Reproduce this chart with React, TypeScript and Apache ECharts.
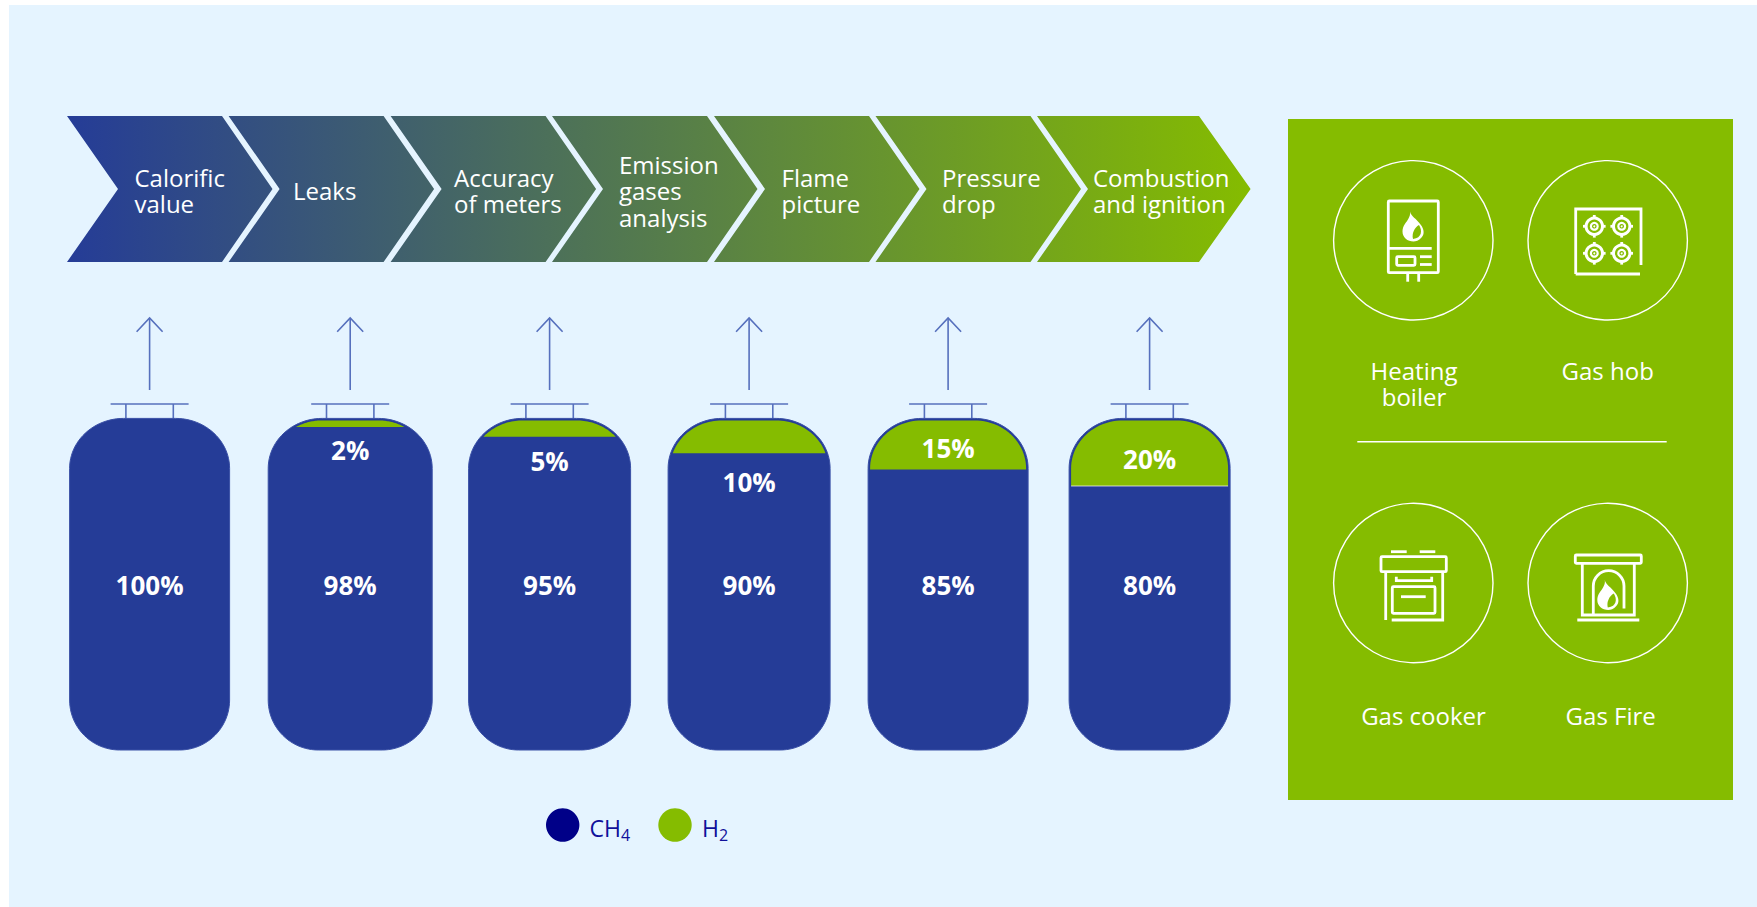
import React, { useEffect, useRef } from "react";
import * as echarts from "echarts";

// Gas blend per cylinder, in percent.
const ch4Share = [100, 98, 95, 90, 85, 80];
const h2Share = [0, 2, 5, 10, 15, 20];
const blendNames = ["Blend A", "Blend B", "Blend C", "Blend D", "Blend E", "Blend F"];

const testSteps = [
  "Calorific\nvalue",
  "Leaks",
  "Accuracy\nof meters",
  "Emission\ngases\nanalysis",
  "Flame\npicture",
  "Pressure\ndrop",
  "Combustion\nand ignition",
];

const applianceNames = ["Heating\nboiler", "Gas hob", "Gas cooker", "Gas Fire"];

const BLUE = "#253c97";
const GREEN = "#85bc00";
const LINE = "#5670bd";
const FONT = '"Open Sans", sans-serif';

// Tank outline geometry (px).
const TANK_WIDTHS = [160, 164, 162, 162, 160, 161];
const TANK_SHIFT = [0, 0.6, 0, -0.5, -1.5, 0];
const TOP_RX = 54;
const TOP_RY = 50;
const BOTTOM_R = 50;
const H2_LABEL_OFFSET = [0, 23, 24, 29, -22, -27];
const CH4_LABEL_Y = 585;

echarts.graphic.registerShape(
  "flame",
  echarts.graphic.extendPath(
    "M7.5 0C8.5 5 14 7 18 13C22 18 22 23 19 26C16.5 29 13 30 11 30C5 30 0 26 0 20C0 14 4 11 6 7C7 5 8 3 7.5 0Z",
    {}
  ) as any
);
echarts.graphic.registerShape(
  "flameLeaf",
  echarts.graphic.extendPath("M10.5 27.5C9 22 12 16 16.5 13.5C20 19 19.5 26.5 10.5 27.5Z", {}) as any
);
echarts.graphic.registerShape(
  "fireArch",
  echarts.graphic.extendPath("M1593.3 615L1593.3 586A15.3 15.3 0 0 1 1624 586L1624 608.5", {}) as any
);

// Points along one quarter of an ellipse.
function quarter(cx: number, cy: number, rx: number, ry: number, from: number, to: number) {
  const pts: number[][] = [];
  for (let k = 0; k <= 24; k++) {
    const a = from + ((to - from) * k) / 24;
    pts.push([cx + rx * Math.cos(a), cy + ry * Math.sin(a)]);
  }
  return pts;
}

function tankOutline(cx: number, w: number, top: number, bottom: number) {
  const l = cx - w / 2;
  const r = cx + w / 2;
  return [
    ...quarter(l + TOP_RX, top + TOP_RY, TOP_RX, TOP_RY, Math.PI, 1.5 * Math.PI),
    ...quarter(r - TOP_RX, top + TOP_RY, TOP_RX, TOP_RY, 1.5 * Math.PI, 2 * Math.PI),
    ...quarter(r - BOTTOM_R, bottom - BOTTOM_R, BOTTOM_R, BOTTOM_R, 0, 0.5 * Math.PI),
    ...quarter(l + BOTTOM_R, bottom - BOTTOM_R, BOTTOM_R, BOTTOM_R, 0.5 * Math.PI, Math.PI),
  ];
}

// Part of the domed tank head that lies above a given fill level.
function headAboveLevel(cx: number, w: number, top: number, level: number) {
  const rx = TOP_RX - 2;
  const ry = TOP_RY - 2;
  const t = top + 2;
  const half = w / 2 - 2;
  const cy = t + ry;
  const pts: number[][] = [];
  const leftC = cx - half + rx;
  const rightC = cx + half - rx;
  if (level >= cy) {
    pts.push([cx - half, level]);
    pts.push(...quarter(leftC, cy, rx, ry, Math.PI, 1.5 * Math.PI));
    pts.push(...quarter(rightC, cy, rx, ry, 1.5 * Math.PI, 2 * Math.PI));
    pts.push([cx + half, level]);
  } else {
    const s = Math.asin((cy - level) / ry);
    pts.push(...quarter(leftC, cy, rx, ry, Math.PI + s, 1.5 * Math.PI));
    pts.push(...quarter(rightC, cy, rx, ry, 1.5 * Math.PI, 2 * Math.PI - s));
  }
  return pts;
}

function shareText(x: number, y: number, value: number) {
  return {
    type: "text",
    style: {
      text: `${value}%`,
      x,
      y,
      fill: "#fff",
      fontFamily: FONT,
      fontWeight: 700,
      fontSize: 26,
      align: "center",
      verticalAlign: "middle",
    },
  };
}

function renderCh4(params: any, api: any) {
  const i = api.value(0);
  const [px, bottom] = api.coord([i, 0]);
  const cx = px + TANK_SHIFT[i];
  const [, full] = api.coord([i, 100]);
  const top = full - 2;
  const w = TANK_WIDTHS[i];
  const ln = { stroke: LINE, lineWidth: 1.6, fill: "none" };
  const seg = (x1: number, y1: number, x2: number, y2: number) => ({
    type: "line",
    shape: { x1, y1, x2, y2 },
    style: ln,
  });
  return {
    type: "group",
    children: [
      seg(cx, 318, cx, 390),
      { type: "polyline", shape: { points: [[cx - 13, 331.7], [cx, 318], [cx + 13, 331.7]] }, style: ln },
      seg(cx - 39, 404, cx + 39, 404),
      seg(cx - 23.7, 404, cx - 23.7, top),
      seg(cx + 23.7, 404, cx + 23.7, top),
      {
        type: "polygon",
        shape: { points: tankOutline(cx, w, top, bottom + 1.6) },
        style: { fill: BLUE, stroke: "#3a50a6", lineWidth: 1 },
      },
      shareText(cx, CH4_LABEL_Y, api.value(1)),
    ],
  };
}

function renderH2(params: any, api: any) {
  const i = api.value(0);
  const h2 = api.value(1);
  if (!h2) return { type: "group", children: [] };
  const [px, level] = api.coord([i, 100 - h2]);
  const cx = px + TANK_SHIFT[i];
  const [, full] = api.coord([i, 100]);
  const children: any[] = [
    {
      type: "polygon",
      shape: { points: headAboveLevel(cx, TANK_WIDTHS[i], full - 2, level) },
      style: { fill: GREEN },
    },
  ];
  // The fullest head carries a pale seam along its fill line.
  if (h2 === Math.max(...h2Share)) {
    children.push({
      type: "line",
      shape: { x1: cx - TANK_WIDTHS[i] / 2 + 2, y1: level, x2: cx + TANK_WIDTHS[i] / 2 - 2, y2: level },
      style: { stroke: "rgba(255,255,255,0.7)", lineWidth: 1 },
    });
  }
  children.push(shareText(cx, level + H2_LABEL_OFFSET[i], h2));
  return { type: "group", children };
}

// Icon line helpers, all in white on the green panel.
const W = { stroke: "#fff", lineWidth: 2.8, fill: "none" };
const line = (x1: number, y1: number, x2: number, y2: number, lineWidth = 2.8) => ({
  type: "line",
  shape: { x1, y1, x2, y2 },
  style: { ...W, lineWidth },
});
const box = (x: number, y: number, width: number, height: number) => ({
  type: "rect",
  shape: { x, y, width, height, r: 1 },
  style: W,
});
const poly = (points: number[][]) => ({ type: "polyline", shape: { points }, style: W });
const flame = (x: number, y: number) => [
  { type: "flame", x, y, style: { fill: "#fff" } },
  { type: "flameLeaf", x, y, style: { fill: GREEN } },
];

function burner(cx: number, cy: number) {
  return [
    { type: "circle", shape: { cx, cy, r: 8.2 }, style: { ...W, lineWidth: 3 } },
    { type: "circle", shape: { cx, cy, r: 3.4 }, style: { ...W, lineWidth: 2.2 } },
    { type: "circle", shape: { cx, cy, r: 1 }, style: { fill: "#fff" } },
    line(cx - 11.3, cy, cx - 8, cy),
    line(cx + 8, cy, cx + 11.3, cy),
    line(cx, cy - 11.3, cx, cy - 8),
    line(cx, cy + 8, cx, cy + 11.3),
  ];
}

const boilerIcon = [
  box(1388.3, 201, 50, 71.7),
  line(1388.3, 248.3, 1431.7, 248.3),
  box(1396.7, 256.7, 18.3, 8.6),
  line(1420, 256.7, 1431.7, 256.7),
  line(1420, 264.5, 1431.7, 264.5),
  line(1407.7, 272.7, 1407.7, 281.7),
  line(1418.7, 272.7, 1418.7, 281.7),
  ...flame(1402.5, 211.5),
];

const hobIcon = [
  poly([[1575.7, 274], [1575.7, 209], [1641, 209], [1641, 265]]),
  line(1575.7, 274, 1640, 274),
  ...burner(1594.3, 226.3),
  ...burner(1621.7, 226.3),
  ...burner(1594.3, 253.3),
  ...burner(1621.7, 253.3),
];

const cookerIcon = [
  line(1391, 551.7, 1406.7, 551.7),
  line(1419.7, 551.7, 1435.3, 551.7),
  box(1381, 556.7, 65.3, 15),
  line(1385.7, 571.7, 1385.7, 620),
  poly([[1442.7, 571.7], [1442.7, 620], [1391.7, 620]]),
  box(1392.3, 586.7, 42.7, 26.6),
  poly([[1396.3, 576.7], [1396.3, 580.7], [1431.7, 580.7], [1431.7, 576.7]]),
  line(1401, 596.7, 1425.7, 596.7),
];

const fireIcon = [
  box(1575.3, 555, 66, 8.3),
  poly([[1582.3, 563.3], [1582.3, 615], [1634.3, 615], [1634.3, 563.3]]),
  line(1577.3, 620, 1639.3, 620),
  { type: "fireArch", style: W },
  ...flame(1597.3, 580),
];

const CHEVRON_LEFT = [67, 228.6, 390.6, 552, 714, 875.5, 1037];
const CHEVRON_TEXT_X = [134.5, 293, 454, 619, 781.5, 942, 1093];

function chevrons() {
  const top = 116;
  const bottom = 262;
  const mid = 189;
  const fill = {
    type: "linear",
    x: 67,
    y: 0,
    x2: 1251,
    y2: 0,
    global: true,
    colorStops: [
      { offset: 0, color: BLUE },
      { offset: 1, color: GREEN },
    ],
  };
  return testSteps.flatMap((label, i) => {
    const x = CHEVRON_LEFT[i];
    const isLast = i === testSteps.length - 1;
    const shoulder = x + (isLast ? 162 : 155);
    const tip = x + (isLast ? 213.6 : 205.5);
    return [
      {
        type: "polygon",
        shape: {
          points: [
            [x, top],
            [shoulder, top],
            [tip, mid],
            [shoulder, bottom],
            [x, bottom],
            [x + 51, mid],
          ],
        },
        style: { fill },
      },
      {
        type: "text",
        style: {
          text: label,
          x: CHEVRON_TEXT_X[i],
          y: 190.5,
          fill: "#fff",
          fontFamily: FONT,
          fontSize: 24,
          lineHeight: 26.5,
          align: "left",
          verticalAlign: "middle",
        },
      },
    ];
  });
}

const ring = (cx: number, cy: number) => ({
  type: "circle",
  shape: { cx, cy, r: 79.7 },
  style: { fill: "none", stroke: "#fff", lineWidth: 1.4 },
});

const applianceText = (text: string, x: number, y: number) => ({
  type: "text",
  style: {
    text,
    x,
    y,
    fill: "#fff",
    fontFamily: FONT,
    fontSize: 24,
    lineHeight: 26.5,
    align: "center",
    verticalAlign: "top",
  },
});

const legendMark = (cx: number, fill: string) => ({
  type: "circle",
  shape: { cx, cy: 825, r: 16.7 },
  style: { fill },
});

const legendText = (x: number, text: string) => ({
  type: "text",
  style: {
    text,
    x,
    y: 843,
    align: "left",
    verticalAlign: "bottom",
    rich: {
      m: { fontFamily: FONT, fontSize: 23, fill: "#10109a", lineHeight: 30, verticalAlign: "middle" },
      s: { fontFamily: FONT, fontSize: 16, fill: "#10109a", lineHeight: 16, verticalAlign: "bottom" },
    },
  },
});

export default function App() {
  const ref = useRef<HTMLDivElement>(null);

  useEffect(() => {
    document.body.style.margin = "0";
    document.body.style.background = "#fff";
    const chart = echarts.init(ref.current!, null, { renderer: "svg" });
    chart.setOption({
      animation: false,
      backgroundColor: "#fff",
      grid: { left: 49.6, top: 420.4, width: 1200, height: 328 },
      xAxis: { type: "category", data: blendNames, show: false },
      yAxis: { type: "value", min: 0, max: 100, show: false },
      series: [
        {
          name: "CH4",
          type: "custom",
          clip: false,
          renderItem: renderCh4,
          encode: { x: 0, y: 1 },
          data: ch4Share.map((v, i) => [i, v]),
          z: 3,
        },
        {
          name: "H2",
          type: "custom",
          clip: false,
          renderItem: renderH2,
          encode: { x: 0, y: 1 },
          data: h2Share.map((v, i) => [i, v]),
          z: 4,
        },
      ],
      graphic: {
        elements: [
          {
            type: "rect",
            z: -10,
            shape: { x: 9, y: 5, width: 1748, height: 902 },
            style: { fill: "#e5f4ff" },
          },
          ...chevrons(),
          {
            type: "rect",
            shape: { x: 1288, y: 119, width: 445, height: 681 },
            style: { fill: GREEN },
          },
          ring(1413.3, 240.3),
          ring(1607.7, 240.3),
          ring(1413.3, 583),
          ring(1607.7, 583),
          line(1357.3, 441.7, 1666.7, 441.7, 1.4),
          applianceText(applianceNames[0], 1414, 357),
          applianceText(applianceNames[1], 1607.7, 357),
          applianceText(applianceNames[2], 1423.5, 702),
          applianceText(applianceNames[3], 1610.7, 702),
          ...boilerIcon,
          ...hobIcon,
          ...cookerIcon,
          ...fireIcon,
          legendMark(562.7, "#000088"),
          legendMark(675, GREEN),
          legendText(589.5, "{m|CH}{s|4}"),
          legendText(702, "{m|H}{s|2}"),
        ],
      },
    });
    return () => chart.dispose();
  }, []);

  return <div ref={ref} style={{ width: 1757, height: 907 }} />;
}
